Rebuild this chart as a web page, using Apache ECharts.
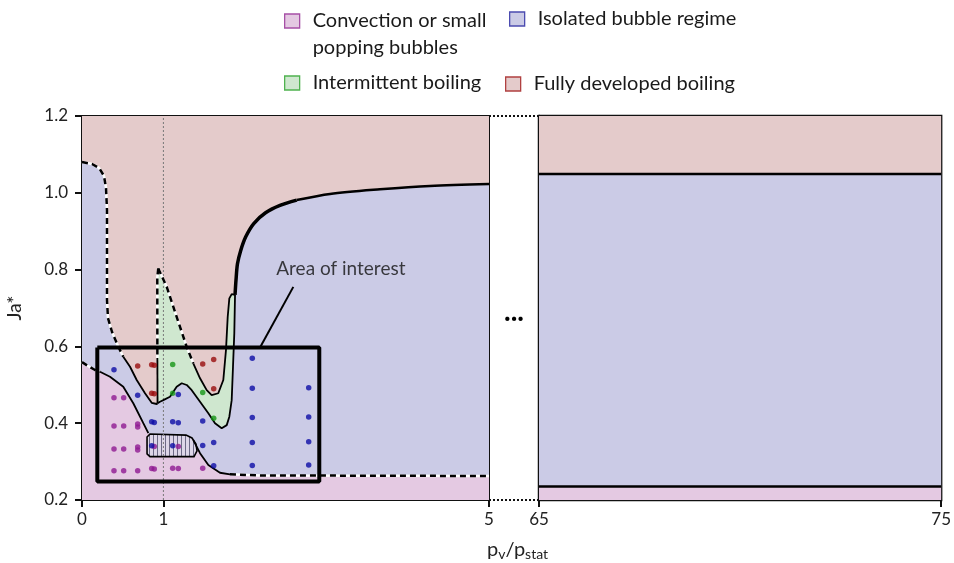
<!DOCTYPE html>
<html><head><meta charset="utf-8">
<script src="https://cdn.jsdelivr.net/npm/echarts@6/dist/echarts.min.js"></script>
<style>html,body{margin:0;padding:0;background:#fff}#c{width:954px;height:563px}</style>
</head><body><div id="c"></div>
<script>
// ---------------- data ----------------
const leftXRange = [0, 5];
const rightXRange = [65, 75];
const jaRange = [0.2, 1.2];
const leftXTicks = [0, 1, 5];
const rightXTicks = [65, 75];
const refLineX = 1;

// right panel boundaries
const rightUpperBoundary = 1.049;
const rightLowerBoundary = 0.235;

// fully-developed / isolated boundary (left panel)
const dashedTop = [[0,1.080],[0.123,1.075],[0.209,1.065],[0.270,1.044],[0.295,1.0125],[0.307,0.955],[0.307,0.721],[0.319,0.674],[0.369,0.6375],[0.442,0.601],[0.507,0.573]];
const redPocketLeft = [[0.507,0.573],[0.590,0.547],[0.672,0.5125],[0.774,0.478],[0.856,0.453],[0.918,0.450],[0.928,0.452]];
const greenBottom = [[0.928,0.452],[0.958,0.456],[0.999,0.460],[1.081,0.469],[1.163,0.495],[1.225,0.504],[1.286,0.4995],[1.348,0.486],[1.450,0.456],[1.552,0.426],[1.634,0.400],[1.716,0.387],[1.778,0.395],[1.810,0.417],[1.839,0.460],[1.855,0.547],[1.871,0.634],[1.880,0.734]];
const thickBoundary = [[1.880,0.734],[1.892,0.773],[1.910,0.815],[1.950,0.850],[2.010,0.885],[2.110,0.920],[2.255,0.948],[2.432,0.967],[2.638,0.981]];
const thinBoundary = [[2.638,0.981],[3.047,0.997],[3.661,1.009],[4.275,1.018],[5.0,1.023]];

// intermittent boiling region
const greenRightDashed = [[0.937,0.803],[1.041,0.755],[1.163,0.677],[1.286,0.599],[1.367,0.556]];
const greenPocket = [[1.367,0.556],[1.450,0.517],[1.532,0.486],[1.593,0.473],[1.674,0.478],[1.736,0.5125],[1.769,0.591],[1.790,0.677],[1.810,0.725],[1.839,0.736],[1.880,0.734]];
const greenLeftDashed = [[0.937,0.803],[0.925,0.78],[0.926,0.57]];
const greenLeftSolid = [[0.926,0.57],[0.928,0.452]];

// convection / isolated boundary
const pinkDashedLeft = [[0,0.559],[0.074,0.549],[0.160,0.5385],[0.221,0.534]];
const pinkSolidA = [[0.221,0.534],[0.344,0.521],[0.507,0.495],[0.630,0.452],[0.753,0.400],[0.815,0.374]];
const pinkSolidB = [[1.367,0.356],[1.450,0.322],[1.552,0.291],[1.695,0.271],[1.818,0.267]];
const pinkDashedRight = [[1.818,0.267],[2.187,0.264],[5,0.2625]];

// hatched pocket
const hatched = [[0.799,0.364],[0.835,0.372],[1.278,0.369],[1.351,0.3615],[1.400,0.346],[1.413,0.328],[1.376,0.313],[0.835,0.313],[0.799,0.320]];

// area-of-interest box and pointer
const areaBox = [[0.188,0.597],[2.915,0.597],[2.915,0.248],[0.188,0.248]];
const areaPointer = [[2.187,0.597],[2.596,0.755]];
const areaLabel = {text: 'Area of interest', at: [3.18, 0.803]};

// measurement points
const redDots = [[0.684,0.549],[0.856,0.552],[0.888,0.551],[1.483,0.554],[1.618,0.566],[0.856,0.478],[0.888,0.477],[1.618,0.490]];
const greenDots = [[1.114,0.553],[1.114,0.478],[1.483,0.480],[1.618,0.413]];
const blueDots = [[0.393,0.539],[0.684,0.473],[1.183,0.475],[2.092,0.569],[2.092,0.491],[2.785,0.492],[0.856,0.404],[0.888,0.402],[1.114,0.404],[1.183,0.401],[1.483,0.406],[2.092,0.415],[2.785,0.416],[0.856,0.341],[1.114,0.341],[1.483,0.342],[1.618,0.350],[2.092,0.350],[2.785,0.352],[1.618,0.289],[2.092,0.290],[2.785,0.291]];
const purpleDots = [[0.393,0.466],[0.512,0.466],[0.393,0.393],[0.512,0.393],[0.684,0.398],[0.684,0.390],[0.888,0.339],[1.183,0.339],[0.393,0.333],[0.512,0.333],[0.684,0.338],[0.684,0.330],[0.393,0.276],[0.512,0.276],[0.684,0.276],[0.856,0.282],[0.888,0.281],[1.114,0.283],[1.183,0.282],[1.483,0.283]];

const names = {
  conv: 'Convection or small popping bubbles',
  iso: 'Isolated bubble regime',
  inter: 'Intermittent boiling',
  full: 'Fully developed boiling'
};

// ---------------- style ----------------
const FONT = 'Lato, "Open Sans", sans-serif';
const C = {conv:'#e4c9e2', iso:'#cbcbe6', full:'#e4cbcb', inter:'#cfe7cf'};
const B = {conv:'#a64fa6', iso:'#4b4bb0', full:'#b04040', inter:'#4fb24f'};

// ---------------- build ----------------
const [x0, x1] = leftXRange, [r0, r1] = rightXRange, [y0, y1] = jaRange;
const rect = (xa, xb, ya, yb) => [[xa, ya], [xb, ya], [xb, yb], [xa, yb]];

const leftRed = rect(x0, x1, y0, y1);
const leftBlue = [...dashedTop, ...redPocketLeft.slice(1), ...greenBottom.slice(1), ...thickBoundary.slice(1), ...thinBoundary.slice(1), [x1, y0], [x0, y0]];
const leftGreen = [...greenRightDashed, ...greenPocket.slice(1), ...greenBottom.slice().reverse().slice(1), ...greenLeftSolid.slice().reverse().slice(1), ...greenLeftDashed.slice().reverse().slice(1, -1)];
const leftPink = [...pinkDashedLeft, ...pinkSolidA.slice(1), ...pinkSolidB, ...pinkDashedRight.slice(1), [x1, y0], [x0, y0]];
const rightRed = rect(r0, r1, rightUpperBoundary, y1);
const rightBlue = rect(r0, r1, rightLowerBoundary, rightUpperBoundary);
const rightPink = rect(r0, r1, y0, rightLowerBoundary);

function hatchPattern() {
  const cv = document.createElement('canvas');
  cv.width = 4; cv.height = 4;
  const g = cv.getContext('2d');
  g.fillStyle = '#ddd6e8'; g.fillRect(0, 0, 4, 4);
  g.fillStyle = '#6d6a86'; g.fillRect(1, 0, 1, 4);
  return {image: cv, repeat: 'repeat'};
}

function region(name, pts, color, gi, z, extraStyle) {
  return {
    type: 'custom', name, xAxisIndex: gi, yAxisIndex: gi, z, silent: true, clip: true,
    itemStyle: {color: typeof color === 'string' ? color : '#ddd'},
    data: [[pts[0][0], pts[0][1]]],
    renderItem: (params, api) => ({
      type: 'polygon',
      shape: {points: pts.map(p => api.coord(p))},
      style: Object.assign({fill: color}, extraStyle || {})
    })
  };
}
function path(pts, gi, lineStyle, z, smooth) {
  return {type: 'line', data: pts, xAxisIndex: gi, yAxisIndex: gi, showSymbol: false, symbol: 'none',
    silent: true, z, lineStyle, clip: true, smooth: smooth || false};
}
function dashed(pts, gi) {
  return [path(pts, gi, {color: '#fff', width: 2.5}, 6), path(pts, gi, {color: '#000', width: 2.5, type: [6, 4]}, 7)];
}
function dots(pts, color) {
  return {type: 'scatter', data: pts, xAxisIndex: 0, yAxisIndex: 0, symbolSize: 5.5, itemStyle: {color}, z: 12, silent: true};
}

const series = [
  region(names.full, leftRed, C.full, 0, 1),
  region(names.iso, leftBlue, C.iso, 0, 2),
  region(names.inter, leftGreen, C.inter, 0, 3),
  region(names.conv, leftPink, C.conv, 0, 3),
  region('hatch', hatched, hatchPattern(), 0, 4, {stroke: '#000', lineWidth: 1.6}),
  region(names.full, rightRed, C.full, 1, 1),
  region(names.iso, rightBlue, C.iso, 1, 1),
  region(names.conv, rightPink, C.conv, 1, 1),
  path([[refLineX, y0], [refLineX, y1]], 0, {color: '#777', width: 1, type: [2, 2]}, 5),
  ...dashed(dashedTop, 0),
  ...dashed(greenRightDashed, 0),
  ...dashed(greenLeftDashed, 0),
  ...dashed(pinkDashedLeft, 0),
  ...dashed(pinkDashedRight, 0),
  path(redPocketLeft, 0, {color: '#000', width: 1.8}, 7),
  path(greenBottom, 0, {color: '#000', width: 1.8}, 7),
  path(greenPocket, 0, {color: '#000', width: 1.8}, 7),
  path(greenLeftSolid, 0, {color: '#000', width: 1.8}, 7),
  path(pinkSolidA, 0, {color: '#000', width: 1.8}, 7),
  path(pinkSolidB, 0, {color: '#000', width: 1.8}, 7),
  path(thickBoundary, 0, {color: '#000', width: 3.5}, 7, 0.3),
  path(thinBoundary, 0, {color: '#000', width: 2.5}, 7, 0.3),
  path([[r0, rightUpperBoundary], [r1, rightUpperBoundary]], 1, {color: '#000', width: 2.5}, 7),
  path([[r0, rightLowerBoundary], [r1, rightLowerBoundary]], 1, {color: '#000', width: 2.5}, 7),
  path([...areaBox, areaBox[0]], 0, {color: '#000', width: 4}, 9),
  path(areaPointer, 0, {color: '#000', width: 2}, 9),
  {type: 'scatter', data: [areaLabel.at], xAxisIndex: 0, yAxisIndex: 0, symbolSize: 0, z: 10, silent: true,
   label: {show: true, position: 'inside', formatter: areaLabel.text, fontFamily: FONT, fontSize: 19, color: '#111'}},
  dots(purpleDots, '#8e1a92'),
  dots(blueDots, '#0c0ca6'),
  dots(redDots, '#990d0d'),
  dots(greenDots, '#159615')
];

function legendOne(key, left, top, extra) {
  const base = {
    data: [{name: names[key], itemStyle: {color: C[key], borderColor: B[key], borderWidth: 1.3}}],
    itemStyle: {color: C[key], borderColor: B[key], borderWidth: 1.3},
    left, top, padding: 0, icon: 'rect', itemWidth: 15, itemHeight: 14, selectedMode: false,
    textStyle: {fontFamily: FONT, fontSize: 20, lineHeight: 24, color: '#1a1a1a', padding: [0, 0, 0, 8]}
  };
  return Object.assign(base, extra || {});
}

const axisLabelStyle = {fontFamily: FONT, fontSize: 17, color: '#222'};

const option = {
  animation: false,
  backgroundColor: '#fff',
  grid: [
    {left: 82, top: 116, width: 407, height: 384, show: true, borderColor: '#111', borderWidth: 2, backgroundColor: 'transparent'},
    {left: 539, top: 116, width: 410, height: 384, show: true, borderColor: '#111', borderWidth: 2.5, backgroundColor: 'transparent'}
  ],
  xAxis: [
    {type: 'value', gridIndex: 0, min: x0, max: x1, splitLine: {show: false},
     axisLine: {lineStyle: {color: '#111', width: 2}},
     axisTick: {show: true, length: 7, customValues: leftXTicks, lineStyle: {color: '#111', width: 2}},
     axisLabel: Object.assign({customValues: leftXTicks, margin: 11}, axisLabelStyle)},
    {type: 'value', gridIndex: 1, min: r0, max: r1, splitLine: {show: false},
     axisLine: {lineStyle: {color: '#111', width: 2}},
     axisTick: {show: true, length: 7, customValues: rightXTicks, lineStyle: {color: '#111', width: 2}},
     axisLabel: Object.assign({customValues: rightXTicks, margin: 11}, axisLabelStyle)}
  ],
  yAxis: [
    {type: 'value', gridIndex: 0, min: y0, max: y1, interval: 0.2, splitLine: {show: false},
     name: 'Ja*', nameLocation: 'middle', nameGap: 58, nameRotate: 90,
     nameTextStyle: {fontFamily: FONT, fontSize: 19, color: '#222'},
     axisLine: {lineStyle: {color: '#111', width: 2}},
     axisTick: {show: true, length: 7, lineStyle: {color: '#111', width: 2}},
     axisLabel: Object.assign({margin: 14, formatter: v => v.toFixed(1)}, axisLabelStyle)},
    {type: 'value', gridIndex: 1, min: y0, max: y1, interval: 0.2, splitLine: {show: false},
     axisLine: {lineStyle: {color: '#111', width: 2.5}}, axisTick: {show: false}, axisLabel: {show: false}}
  ],
  legend: [
    legendOne('conv', 284, -16, {
      formatter: () => '{s| }\n{a|Convection or small}\n{a|popping bubbles}',
      textStyle: {fontFamily: FONT, fontSize: 20, color: '#1a1a1a', padding: [0, 0, 0, 8],
        rich: {s: {fontSize: 20, lineHeight: 27}, a: {fontFamily: FONT, fontSize: 20, lineHeight: 27, color: '#1a1a1a'}}}
    }),
    legendOne('iso', 509, 7),
    legendOne('inter', 284, 71),
    legendOne('full', 505, 72)
  ],
  series
};

const chart = echarts.init(document.getElementById('c'), null, {renderer: 'canvas'});
chart.setOption(option);

// decorations in the axis break, placed from the axes
const pTL = chart.convertToPixel({gridIndex: 0}, [x1, y1]);
const pBL = chart.convertToPixel({gridIndex: 0}, [x1, y0]);
const pTR = chart.convertToPixel({gridIndex: 1}, [r0, y1]);
const pBR = chart.convertToPixel({gridIndex: 1}, [r0, y0]);
const midY = chart.convertToPixel({gridIndex: 0}, [x1, 0.69])[1];
chart.setOption({
  graphic: [
    {type: 'line', shape: {x1: pTL[0], y1: pTL[1], x2: pTR[0], y2: pTR[1]}, style: {stroke: '#111', lineWidth: 2, lineDash: [2, 2]}},
    {type: 'line', shape: {x1: pBL[0], y1: pBL[1], x2: pBR[0], y2: pBR[1]}, style: {stroke: '#111', lineWidth: 2, lineDash: [2, 2]}},
    {type: 'text', x: (pTL[0] + pTR[0]) / 2, y: midY, style: {text: '...', font: 'bold 28px ' + FONT, fill: '#000', align: 'center', verticalAlign: 'middle'}},
    {type: 'text', x: pBL[0] - 2, y: 550, style: {
      text: '{m|p}{s|v}{m|/p}{s|stat}', align: 'left', verticalAlign: 'middle',
      rich: {m: {fontFamily: FONT, fontSize: 20, fill: '#222', lineHeight: 26}, s: {fontFamily: FONT, fontSize: 14, fill: '#222', padding: [9, 0, 0, 0], lineHeight: 26}}
    }}
  ]
});
</script></body></html>
